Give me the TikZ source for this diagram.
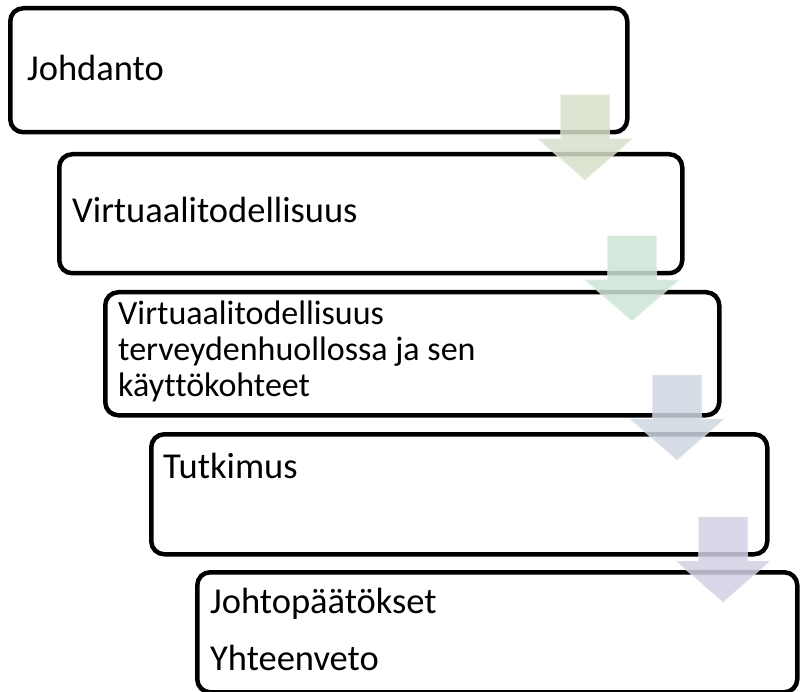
\documentclass[tikz,border=0pt]{standalone}
\usepackage{xcolor}
\usepackage{fontspec}
\setmainfont[Ligatures=NoCommon]{Carlito}
\usepackage{tikz}
\usetikzlibrary{calc}
\usetikzlibrary{positioning}

\definecolor{stepA}{RGB}{214,225,203}
\definecolor{stepB}{RGB}{205,228,214}
\definecolor{stepC}{RGB}{206,215,225}
\definecolor{stepD}{RGB}{211,207,228}

\tikzstyle{stepbox} = [draw=black, line width=4.5pt, rounded corners=13pt, fill=white, anchor=north west, inner sep=0pt]
\tikzstyle{lbl} = [draw=none, anchor=base west, inner sep=0pt, align=left, font=\fontsize{36.5}{43}\selectfont]
\tikzstyle{flowarrow} = [fill opacity=0.85, draw opacity=0.5, line width=1pt]

\begin{document}
\begin{tikzpicture}[x=1pt, y=1pt]
\useasboundingbox (0,0) rectangle (800,-692);
% the five steps
\node [stepbox, minimum width=617pt, minimum height=124pt] (J) at (8,-6) {};
\node [stepbox, minimum width=623pt, minimum height=119pt] (V) at (57,-152) {};
\node [stepbox, minimum width=614pt, minimum height=123pt] (VT) at (103,-290) {};
\node [stepbox, minimum width=616pt, minimum height=120pt] (T) at (149,-432) {};
\node [stepbox, minimum width=600pt, minimum height=120pt] (JY) at (195,-570) {};
% texts
\node [lbl] (Jt) at (27,-81) {Johdanto};
\node [lbl] (Vt) at (72,-223) {Virtuaalitodellisuus};
\node [lbl, font=\fontsize{34}{36}\selectfont] (VTt) at (118,-396) {Virtuaalitodellisuus\\terveydenhuollossa ja sen\\käyttökohteet};
\node [lbl] (Tt) at (163,-478) {Tutkimus};
\node [lbl] (JYa) at (210,-613) {Johtopäätökset};
\node [lbl] (JYb) at (210,-670) {Yhteenveto};
% arrows between the steps
\foreach \x/\y/\c in {585/180/stepA, 632/321/stepB, 677/460/stepC, 723/602/stepD}{
  \filldraw [flowarrow, fill=\c, draw=\c!50!white]
    (\x-24.5,-\y+85) -- (\x+24.5,-\y+85) -- (\x+24.5,-\y+41) -- (\x+47,-\y+41)
    -- (\x,-\y) -- (\x-47,-\y+41) -- (\x-24.5,-\y+41) -- cycle;
}
\end{tikzpicture}
\end{document}
